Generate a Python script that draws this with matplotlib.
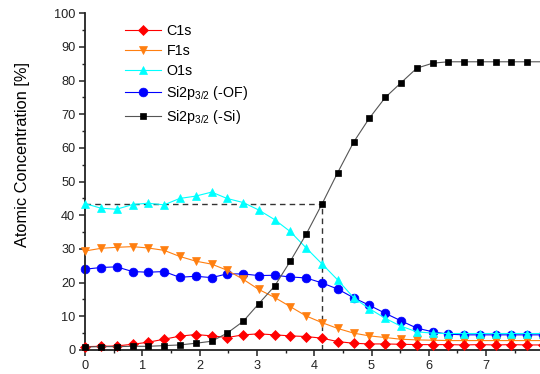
import matplotlib
matplotlib.use("Agg")
import matplotlib.pyplot as plt
from matplotlib.ticker import MultipleLocator

plt.rcParams["font.family"] = ["Liberation Sans", "DejaVu Sans"]
plt.rcParams["mathtext.fontset"] = "custom"
plt.rcParams["mathtext.rm"] = "Liberation Sans"
plt.rcParams["mathtext.it"] = "Liberation Sans:italic"

# sputter depth (x) and atomic concentrations [%]
depth = [0.00, 0.28, 0.55, 0.83, 1.10, 1.38, 1.65, 1.93, 2.21, 2.48,
         2.76, 3.03, 3.31, 3.58, 3.86, 4.14, 4.41, 4.69, 4.96, 5.24,
         5.51, 5.79, 6.07, 6.34, 6.62, 6.89, 7.17, 7.44, 7.72, 7.99]

c1s = [1.0, 1.1, 1.2, 1.7, 2.3, 3.2, 4.1, 4.6, 4.2, 3.7,
       4.5, 4.8, 4.5, 4.2, 4.0, 3.5, 2.5, 2.0, 1.8, 1.8,
       1.7, 1.6, 1.6, 1.6, 1.5, 1.6, 1.5, 1.6, 1.5, 1.5]

f1s = [29.4, 30.2, 30.5, 30.7, 30.3, 29.6, 27.8, 26.4, 25.5, 23.7,
       21.0, 18.0, 15.6, 12.9, 10.1, 8.1, 6.4, 5.0, 4.2, 3.7,
       3.2, 3.0, 2.9, 2.8, 2.8, 2.8, 2.8, 2.8, 2.8, 2.8]

o1s = [43.5, 42.1, 41.8, 43.2, 43.6, 43.1, 45.0, 45.7, 46.9, 45.0,
       43.8, 41.6, 38.7, 35.2, 30.3, 25.5, 20.8, 15.5, 12.3, 9.4,
       7.1, 5.4, 5.0, 4.9, 4.9, 4.9, 4.9, 4.9, 4.9, 4.9]

si_of = [24.0, 24.5, 24.7, 23.3, 23.1, 23.3, 21.6, 21.9, 21.5, 22.6,
         22.6, 22.1, 22.2, 21.7, 21.4, 19.9, 18.1, 15.5, 13.3, 10.9,
         8.7, 6.5, 5.4, 4.7, 4.5, 4.5, 4.5, 4.5, 4.5, 4.5]

si_si = [0.9, 1.0, 1.0, 1.1, 1.1, 1.3, 1.5, 2.0, 2.6, 5.0,
         8.5, 13.7, 19.0, 26.3, 34.4, 43.5, 52.7, 61.8, 68.8, 75.0,
         79.3, 83.7, 85.2, 85.6, 85.6, 85.6, 85.6, 85.6, 85.6, 85.6]

# index of the point marked by the dashed guide lines
guide_idx = 15

series = [
    ("C1s", c1s, "#ff0000", "D", 5.0, 5),
    ("F1s", f1s, "#ff7f10", "v", 6.3, 3),
    ("O1s", o1s, "#00ffff", "^", 6.3, 4),
    (r"Si2p$_{3/2}$ (-OF)", si_of, "#0000ff", "o", 6.3, 2),
    (r"Si2p$_{3/2}$ (-Si)", si_si, "#000000", "s", 4.6, 6),
]

fig = plt.figure(figsize=(5.4, 3.74), dpi=100)
ax = fig.add_axes([85 / 540, 1 - 350 / 374, 1 - 85 / 540, (350 - 13.3) / 374])

line_colors = {"#000000": "#555555"}
for label, vals, col, mk, ms, z in series:
    ax.plot(depth, vals, color=line_colors.get(col, col), lw=0.8,
            marker=mk, markersize=ms, markerfacecolor=col,
            markeredgecolor=col, markeredgewidth=0.5,
            label=label, zorder=z, clip_on=False)

gx, gy = depth[guide_idx], si_si[guide_idx]
ax.plot([0, gx], [gy, gy], color="#333333", lw=1.0, ls=(0, (4, 3)), zorder=1.5)
ax.plot([gx, gx], [0, gy], color="#333333", lw=1.0, ls=(0, (4, 3)), zorder=1.5)

ax.set_xlim(0, 7.94)
ax.set_ylim(0, 100)
ax.xaxis.set_major_locator(MultipleLocator(1))
ax.xaxis.set_minor_locator(MultipleLocator(0.5))
ax.yaxis.set_major_locator(MultipleLocator(10))
ax.yaxis.set_minor_locator(MultipleLocator(5))

for s in ("top", "right"):
    ax.spines[s].set_visible(False)
for s in ("left", "bottom"):
    ax.spines[s].set_linewidth(1.3)
    ax.spines[s].set_color("#222222")

ax.tick_params(which="major", direction="out", length=4.5, width=1.1,
               labelsize=9.2, pad=2.5, colors="#222222")
ax.tick_params(which="minor", direction="out", length=2.5, width=1.0,
               colors="#222222")
ax.set_ylabel("Atomic Concentration [%]", fontsize=11.8)
ax.yaxis.set_label_coords(-0.12, 0.58)

leg = ax.legend(loc="upper left", bbox_to_anchor=(125 / 540, 1 - 24 / 374),
                bbox_transform=fig.transFigure, frameon=False, fontsize=10.3,
                handlelength=2.5, handletextpad=0.4, borderpad=0,
                borderaxespad=0, labelspacing=0.42)

fig.savefig("out.png", dpi=100)
